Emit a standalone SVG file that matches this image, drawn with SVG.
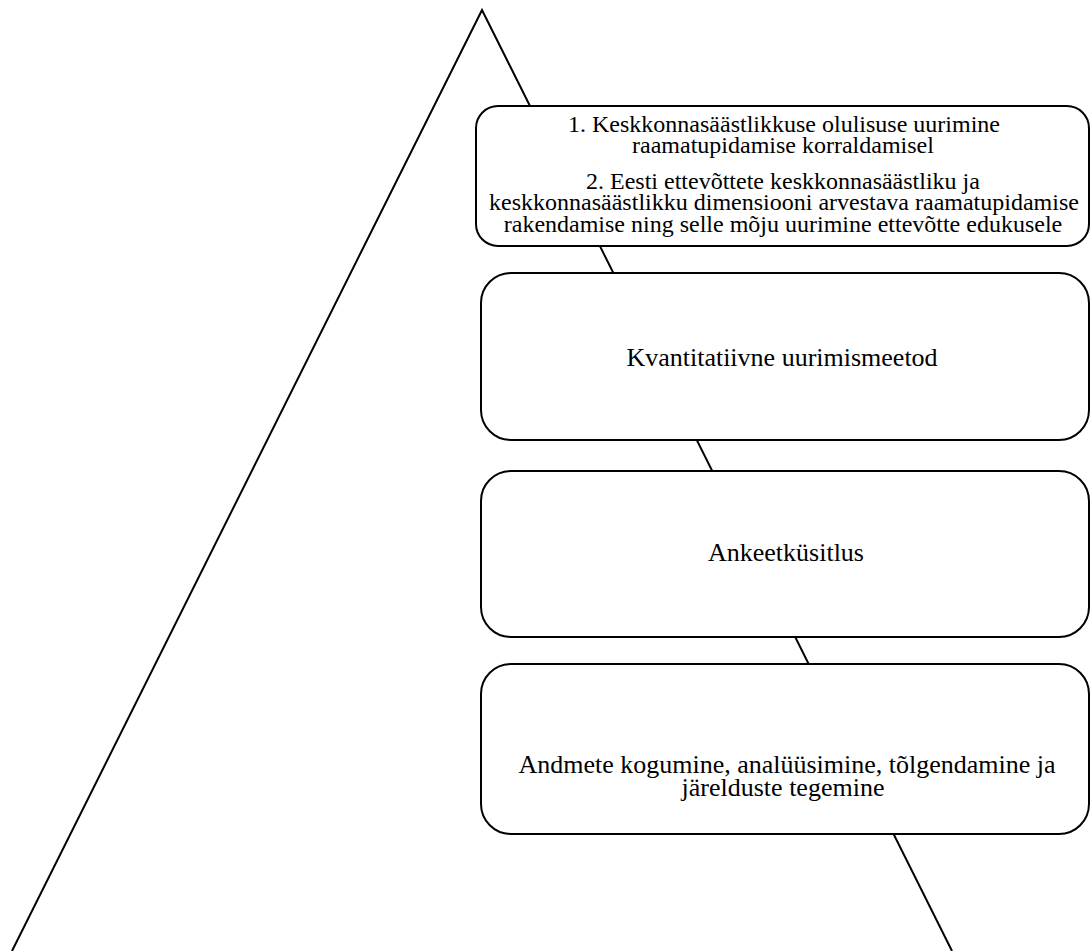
<svg xmlns="http://www.w3.org/2000/svg" width="1091" height="951" viewBox="0 0 1091 951">
<style>
.box{fill:#fff;stroke:#000;stroke-width:2}
.tri{fill:none;stroke:#000;stroke-width:2}
.t{font-family:'Liberation Serif','DejaVu Serif',serif;font-size:24px;fill:#000;text-anchor:middle}
.b{font-size:26px}
</style>
<rect width="1091" height="951" fill="#fff"/>
<g id="connectors">
<path class="tri" d="M12,951 L482,10 L952,951"/>
</g>
<g id="node1">
<rect class="box" x="476" y="106" width="613" height="140" rx="22"/>
<text class="t" x="784" y="132">1. Keskkonnasäästlikkuse olulisuse uurimine</text>
<text class="t" x="783" y="153">raamatupidamise korraldamisel</text>
<text class="t" x="783" y="189">2. Eesti ettevõttete keskkonnasäästliku ja</text>
<text class="t" x="784" y="210">keskkonnasäästlikku dimensiooni arvestava raamatupidamise</text>
<text class="t" x="783" y="232">rakendamise ning selle mõju uurimine ettevõtte edukusele</text>
</g>
<g id="node2">
<rect class="box" x="481" y="273" width="608" height="167" rx="30"/>
<text class="t b" x="782" y="366">Kvantitatiivne uurimismeetod</text>
</g>
<g id="node3">
<rect class="box" x="481" y="471" width="608" height="166" rx="30"/>
<text class="t b" x="786" y="561">Ankeetküsitlus</text>
</g>
<g id="node4">
<rect class="box" x="481" y="664" width="608" height="170" rx="30"/>
<text class="t b" x="787" y="773">Andmete kogumine, analüüsimine, tõlgendamine ja</text>
<text class="t b" x="783" y="796">järelduste tegemine</text>
</g>
</svg>
